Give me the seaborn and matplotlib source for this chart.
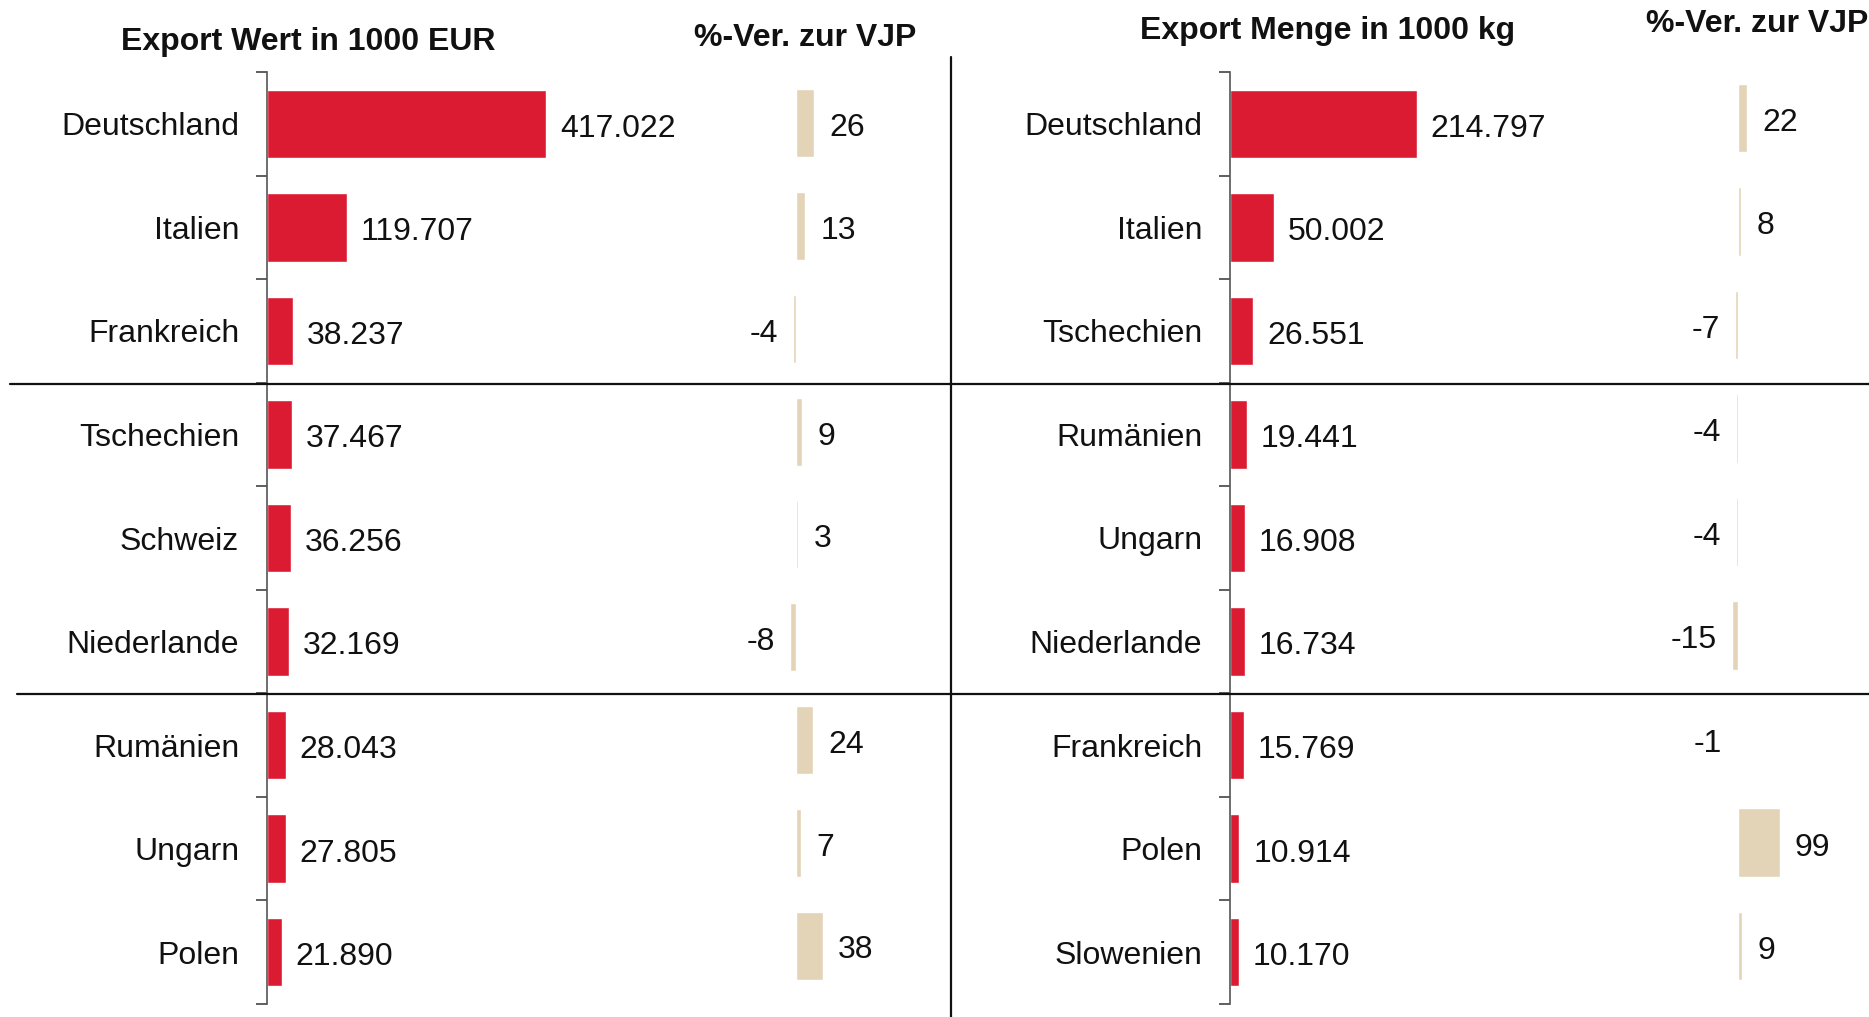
import seaborn as sns
import matplotlib.pyplot as plt
from matplotlib.lines import Line2D
import numpy as np
import pandas as pd

# data
wert_laender = ['Deutschland', 'Italien', 'Frankreich', 'Tschechien', 'Schweiz',
                'Niederlande', 'Rumänien', 'Ungarn', 'Polen']
wert_werte = [417022, 119707, 38237, 37467, 36256, 32169, 28043, 27805, 21890]
wert_pct = [26, 13, -4, 9, 3, -8, 24, 7, 38]

menge_laender = ['Deutschland', 'Italien', 'Tschechien', 'Rumänien', 'Ungarn',
                 'Niederlande', 'Frankreich', 'Polen', 'Slowenien']
menge_werte = [214797, 50002, 26551, 19441, 16908, 16734, 15769, 10914, 10170]
menge_pct = [22, 8, -7, -4, -4, -15, -1, 99, 9]

titles = ['Export Wert in 1000 EUR', 'Export Menge in 1000 kg']
pct_title = '%-Ver. zur VJP'

RED = '#DB1B32'
TAN = '#E3D4B7'
W, H = 1869, 1017

sns.set_theme(style='white')
plt.rcParams['font.family'] = ['Liberation Sans', 'DejaVu Sans']
FS = 23

fig = plt.figure(figsize=(W / 100, H / 100), dpi=100)


def fx(px):
    return px / W


def fy(px):
    return 1 - px / H


def axes_px(x0, x1, y0, y1):
    return fig.add_axes([fx(x0), fy(y1), fx(x1) - fx(x0), (y1 - y0) / H])


def fmt_de(v):
    return f'{v:,}'.replace(',', '.')


def add_labels(ax, labels, pad):
    anns = ax.bar_label(ax.containers[0], labels=labels, padding=pad,
                        fontsize=FS, color='#111111')
    # nudge labels a little down, like the original
    for a in anns:
        x, y = a.xyann
        a.xyann = (x, y - 3.5)


def value_panel(ax, cats, vals, xmax):
    df = pd.DataFrame({'land': cats, 'wert': vals})
    sns.barplot(data=df, x='wert', y='land', color=RED, orient='h', width=0.66,
                saturation=1, ax=ax, order=cats)
    ax.set_xlim(0, xmax)
    ax.set_ylim(len(cats) - 0.5, -0.5)
    add_labels(ax, [fmt_de(v) for v in vals], 10)
    for s in ['top', 'right', 'bottom']:
        ax.spines[s].set_visible(False)
    ax.spines['left'].set_color('#555555')
    ax.spines['left'].set_linewidth(1.2)
    ax.set_xticks([])
    ax.set_xlabel('')
    ax.set_ylabel('')
    ax.set_yticks(range(len(cats)))
    ax.set_yticklabels(cats, fontsize=FS, color='#111111')
    ax.tick_params(axis='y', which='major', length=0, pad=20, left=True)
    ax.set_yticks(np.arange(-0.5, len(cats), 1.0), minor=True)
    ax.tick_params(axis='y', which='minor', length=8, width=1.2,
                   color='#444444', left=True, direction='out')
    ax.patch.set_alpha(0)


def pct_panel(ax, cats, pct, xlim):
    df = pd.DataFrame({'land': cats, 'pct': pct})
    sns.barplot(data=df, x='pct', y='land', color=TAN, orient='h', width=0.66,
                saturation=1, ax=ax, order=cats)
    ax.set_xlim(*xlim)
    ax.set_ylim(len(cats) - 0.5, -0.5)
    add_labels(ax, [str(p) for p in pct], 11)
    for s in ax.spines.values():
        s.set_visible(False)
    ax.set_xticks([])
    ax.set_yticks([])
    ax.set_xlabel('')
    ax.set_ylabel('')
    ax.patch.set_alpha(0)


# left block
ax1 = axes_px(267, 720, 72, 1004)
value_panel(ax1, wert_laender, wert_werte, 453 / 0.669 * 1000)
ax2 = axes_px(730, 900, 72, 997)
pct_panel(ax2, wert_laender, wert_pct, ((730 - 796) / 0.7, (900 - 796) / 0.7))

# right block
ax3 = axes_px(1230, 1630, 72, 1004)
value_panel(ax3, menge_laender, menge_werte, 400 / 0.87 * 1000)
ax4 = axes_px(1680, 1869, 66, 998)
pct_panel(ax4, menge_laender, menge_pct, ((1680 - 1738) / 0.42, (1869 - 1738) / 0.42))

# headers
fig.text(fx(308), fy(42), titles[0], ha='center', va='center',
         fontsize=FS, fontweight='bold', color='#111111')
fig.text(fx(805), fy(38), pct_title, ha='center', va='center',
         fontsize=FS, fontweight='bold', color='#111111')
fig.text(fx(1328), fy(31), titles[1], ha='center', va='center',
         fontsize=FS, fontweight='bold', color='#111111')
fig.text(fx(1757), fy(24), pct_title, ha='center', va='center',
         fontsize=FS, fontweight='bold', color='#111111')

# separators
fig.add_artist(Line2D([fx(10), 1], [fy(384), fy(384)], color='#111111', lw=1.6))
fig.add_artist(Line2D([fx(17), 1], [fy(694), fy(694)], color='#111111', lw=1.6))
fig.add_artist(Line2D([fx(951), fx(951)], [fy(57), 0], color='#111111', lw=1.6))

plt.savefig('out.png', dpi=100, facecolor='white')
